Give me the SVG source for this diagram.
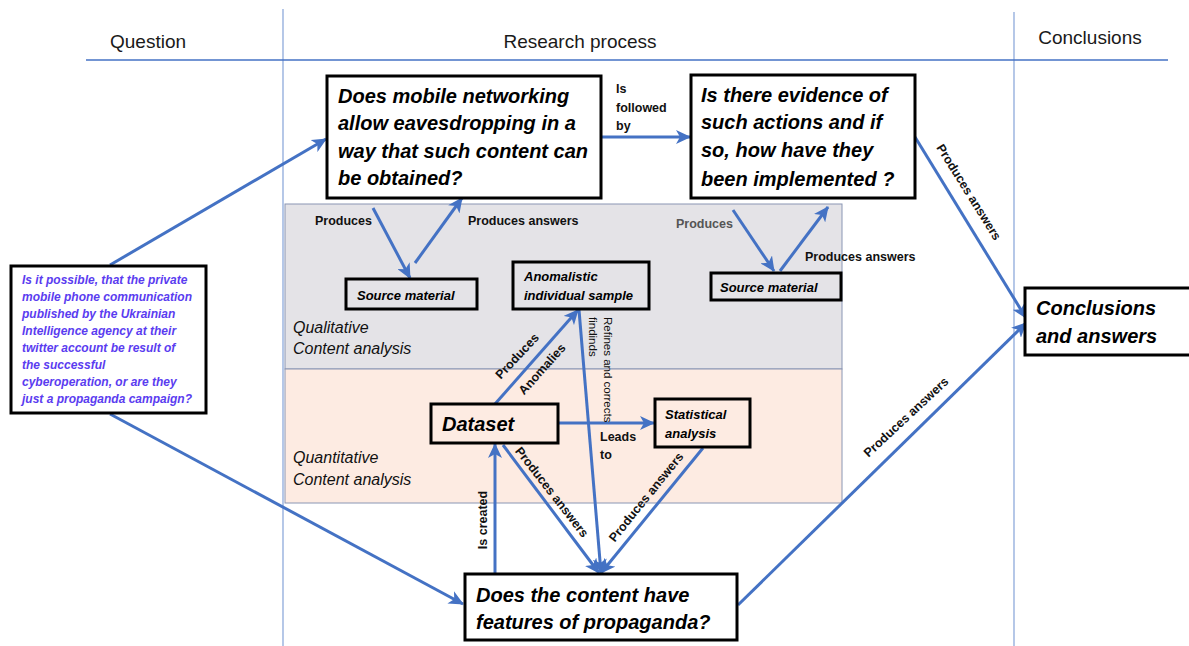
<svg xmlns="http://www.w3.org/2000/svg" width="1189" height="646" viewBox="0 0 1189 646">
<style>
.hdr{font-family:"Liberation Sans",Arial,sans-serif;font-size:19px;fill:#1a1a1a}
.box{fill:#fff;stroke:#000;stroke-width:3}
.big{font-family:"Liberation Sans",Arial,sans-serif;font-size:20px;font-weight:bold;font-style:italic;fill:#000}
.small{font-family:"Liberation Sans",Arial,sans-serif;font-size:13px;font-weight:bold;font-style:italic;fill:#000}
.q{font-family:"Liberation Sans",Arial,sans-serif;font-size:12px;font-weight:bold;font-style:italic;fill:#5a3cf0}
.lbl{font-family:"Liberation Sans",Arial,sans-serif;font-size:12.5px;font-weight:bold;fill:#111}
.lblg{font-family:"Liberation Sans",Arial,sans-serif;font-size:12.5px;font-weight:bold;fill:#555}
.lblr{font-family:"Liberation Sans",Arial,sans-serif;font-size:11.5px;fill:#111}
.sec{font-family:"Liberation Sans",Arial,sans-serif;font-size:16px;font-style:italic;fill:#111}
.con{stroke:#4472c4;stroke-width:3;fill:none}
.sep{stroke:#8eaadb;stroke-width:1.3}
</style>
<defs>
<marker id="ah" markerUnits="userSpaceOnUse" markerWidth="16" markerHeight="14" refX="14" refY="7" orient="auto">
<path d="M0,0 L15,7 L0,14 L4,7 Z" fill="#4472c4"/>
</marker>
</defs>

<g id="frame">
<line class="sep" x1="283" y1="9" x2="283" y2="646"/>
<line class="sep" x1="1014" y1="12" x2="1014" y2="646"/>
<line x1="86" y1="60" x2="1168" y2="60" stroke="#4472c4" stroke-width="1.5"/>
<text class="hdr" x="148" y="48" text-anchor="middle">Question</text>
<text class="hdr" x="580" y="48" text-anchor="middle">Research process</text>
<text class="hdr" x="1090" y="44" text-anchor="middle">Conclusions</text>
</g>

<g id="panels">
<rect x="285" y="204" width="557" height="165" fill="#e4e3e7" stroke="#8a96b4" stroke-width="1"/>
<rect x="285" y="369" width="557" height="134" fill="#fdebe2" stroke="#8a96b4" stroke-width="1"/>
<text class="sec" x="293" y="333">Qualitative</text>
<text class="sec" x="293" y="354">Content analysis</text>
<text class="sec" x="293" y="463">Quantitative</text>
<text class="sec" x="293" y="485">Content analysis</text>
</g>

<g id="connectors">
<line class="con" x1="110" y1="265" x2="326" y2="139" marker-end="url(#ah)"/>
<line class="con" x1="110" y1="414" x2="463" y2="604" marker-end="url(#ah)"/>
<line class="con" x1="601" y1="137" x2="690" y2="137" marker-end="url(#ah)"/>
<line class="con" x1="373" y1="208" x2="410" y2="278" marker-end="url(#ah)"/>
<line class="con" x1="415" y1="263" x2="462" y2="198" marker-end="url(#ah)"/>
<line class="con" x1="733" y1="210" x2="774" y2="271" marker-end="url(#ah)"/>
<line class="con" x1="780" y1="271" x2="828" y2="207" marker-end="url(#ah)"/>
<line class="con" x1="915" y1="137" x2="1026" y2="318" marker-end="url(#ah)"/>
<line class="con" x1="738" y1="605" x2="1026" y2="323" marker-end="url(#ah)"/>
<line class="con" x1="495" y1="404" x2="578" y2="310" marker-end="url(#ah)"/>
<line class="con" x1="579" y1="310" x2="601" y2="573" marker-end="url(#ah)"/>
<line class="con" x1="558" y1="423" x2="654" y2="423" marker-end="url(#ah)"/>
<line class="con" x1="503" y1="445" x2="599" y2="573" marker-end="url(#ah)"/>
<line class="con" x1="703" y1="448" x2="601" y2="573" marker-end="url(#ah)"/>
<line class="con" x1="495" y1="574" x2="495" y2="444" marker-end="url(#ah)"/>

<text class="lbl" x="616" y="93">Is</text>
<text class="lbl" x="616" y="112">followed</text>
<text class="lbl" x="616" y="130">by</text>
<text class="lbl" x="315" y="225">Produces</text>
<text class="lbl" x="468" y="225">Produces answers</text>
<text class="lblg" x="676" y="228">Produces</text>
<text class="lbl" x="805" y="261">Produces answers</text>
<text class="lbl" x="600" y="441">Leads</text>
<text class="lbl" x="600" y="459">to</text>
<text class="lbl" transform="translate(517,356) rotate(-47)" text-anchor="middle" dy="0.35em">Produces</text>
<text class="lbl" transform="translate(542,369) rotate(-48)" text-anchor="middle" dy="0.35em">Anomalies</text>
<g transform="translate(600,317) rotate(90)">
<text class="lblr" x="0" y="-4">Refines and corrects</text>
<text class="lblr" x="0" y="11">findinds</text>
</g>
<text class="lbl" transform="translate(483,520) rotate(-90)" text-anchor="middle" dy="0.35em">Is created</text>
<text class="lbl" transform="translate(552,492) rotate(52)" text-anchor="middle" dy="0.35em">Produces answers</text>
<text class="lbl" transform="translate(646,497) rotate(-51)" text-anchor="middle" dy="0.35em">Produces answers</text>
<text class="lbl" transform="translate(969,192) rotate(58)" text-anchor="middle" dy="0.35em">Produces answers</text>
<text class="lbl" transform="translate(906,417) rotate(-43)" text-anchor="middle" dy="0.35em">Produces answers</text>
</g>

<g id="question">
<rect class="box" x="11" y="266" width="195" height="147"/>
<text class="q" x="22" y="284">Is it possible, that the private</text>
<text class="q" x="22" y="301">mobile phone communication</text>
<text class="q" x="22" y="318">published by the Ukrainian</text>
<text class="q" x="22" y="335">Intelligence agency at their</text>
<text class="q" x="22" y="352">twitter account be result of</text>
<text class="q" x="22" y="369">the successful</text>
<text class="q" x="22" y="386">cyberoperation, or are they</text>
<text class="q" x="22" y="403">just a propaganda campaign?</text>
</g>

<g id="mobile-networking">
<rect class="box" x="327" y="76" width="274" height="122"/>
<text class="big" x="338" y="103">Does mobile networking</text>
<text class="big" x="338" y="130">allow eavesdropping in a</text>
<text class="big" x="338" y="158">way that such content can</text>
<text class="big" x="338" y="185">be obtained?</text>
</g>

<g id="evidence">
<rect class="box" x="691" y="75" width="224" height="123"/>
<text class="big" x="701" y="102">Is there evidence of</text>
<text class="big" x="701" y="129">such actions and if</text>
<text class="big" x="701" y="157">so, how have they</text>
<text class="big" x="701" y="186">been implemented ?</text>
</g>

<g id="source-material-1">
<rect class="box" x="346" y="279" width="131" height="30" style="fill:#e4e3e7"/>
<text class="small" x="357" y="300">Source material</text>
</g>

<g id="anomalistic-sample">
<rect class="box" x="513" y="262" width="136" height="47" style="fill:#e4e3e7"/>
<text class="small" x="524" y="281">Anomalistic</text>
<text class="small" x="524" y="300">individual sample</text>
</g>

<g id="source-material-2">
<rect class="box" x="711" y="273" width="130" height="27" style="fill:#e4e3e7"/>
<text class="small" x="720" y="292">Source material</text>
</g>

<g id="dataset">
<rect class="box" x="431" y="404" width="127" height="39" style="fill:#fdebe2"/>
<text class="big" x="442" y="431">Dataset</text>
</g>

<g id="statistical-analysis">
<rect class="box" x="655" y="399" width="95" height="48" style="fill:#fdebe2"/>
<text class="small" x="665" y="419">Statistical</text>
<text class="small" x="665" y="438">analysis</text>
</g>

<g id="propaganda">
<rect class="box" x="465" y="574" width="272" height="66"/>
<text class="big" x="476" y="602">Does the content have</text>
<text class="big" x="476" y="629">features of propaganda?</text>
</g>

<g id="conclusions">
<rect class="box" x="1025" y="288" width="168" height="67"/>
<text class="big" x="1036" y="315">Conclusions</text>
<text class="big" x="1036" y="343">and answers</text>
</g>
</svg>
